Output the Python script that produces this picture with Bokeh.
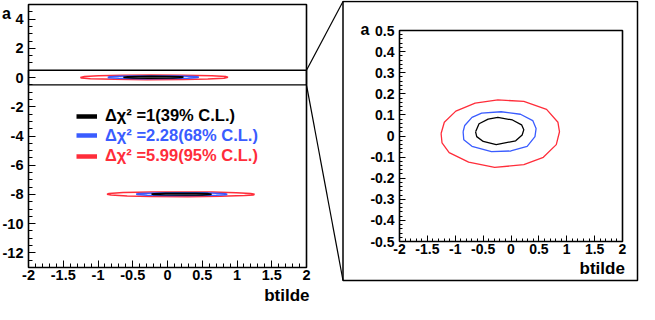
import numpy as np
from bokeh.plotting import figure
from bokeh.models import (Range1d, FixedTicker, BoxAnnotation, Label, LinearAxis,
                          Legend, LegendItem, CustomJSTickFormatter)
from bokeh.embed import file_html
from bokeh.resources import INLINE

FONT = "Liberation Sans"
RED = "#ff2d3a"
BLUE = "#3a5cff"
BLACK = "#000000"

# ---- contour data ----
# solution 1 (a ~ 0)
black_b = [-0.635, -0.573, -0.41, -0.236, 0.026, 0.19, 0.23, 0.20, 0.084, -0.265, -0.498, -0.615]
black_a = [0.020, 0.058, 0.080, 0.088, 0.076, 0.053, 0.030, 0.005, -0.023, -0.041, -0.026, -0.003]
blue_b = [-0.859, -0.83, -0.70, -0.527, -0.178, 0.17, 0.39, 0.45, 0.43, 0.29, -0.003, -0.35, -0.70, -0.847]
blue_a = [0.020, 0.05, 0.088, 0.108, 0.115, 0.103, 0.073, 0.035, -0.003, -0.049, -0.071, -0.074, -0.049, -0.018]
red_b = [-1.254, -1.196, -0.99, -0.643, -0.236, 0.23, 0.638, 0.842, 0.87, 0.812, 0.58, 0.23, -0.293, -0.76, -1.109, -1.237]
red_a = [0.012, 0.065, 0.118, 0.156, 0.171, 0.164, 0.126, 0.065, 0.020, -0.041, -0.101, -0.136, -0.149, -0.124, -0.079, -0.033]
# solution 2 (a ~ -8)
black2_b = [0.635, 0.573, 0.41, 0.236, -0.026, -0.19, -0.23, -0.20, -0.084, 0.265, 0.498, 0.615]
black2_a = [-7.98, -7.94, -7.92, -7.91, -7.92, -7.95, -7.97, -8.00, -8.02, -8.04, -8.03, -8.00]
blue2_b = [0.859, 0.83, 0.70, 0.527, 0.178, -0.17, -0.39, -0.45, -0.43, -0.29, 0.003, 0.35, 0.70, 0.847]
blue2_a = [-7.98, -7.95, -7.91, -7.89, -7.89, -7.90, -7.93, -7.97, -8.00, -8.05, -8.07, -8.07, -8.05, -8.02]
red2_b = [1.254, 1.196, 0.99, 0.643, 0.236, -0.23, -0.638, -0.842, -0.87, -0.812, -0.58, -0.23, 0.293, 0.76, 1.109, 1.237]
red2_a = [-7.99, -7.94, -7.88, -7.84, -7.83, -7.84, -7.87, -7.94, -7.98, -8.04, -8.10, -8.14, -8.15, -8.12, -8.08, -8.03]

legend_labels = ["Δχ² =1(39% C.L.)", "Δχ² =2.28(68% C.L.)", "Δχ² =5.99(95% C.L.)"]
legend_colors = [BLACK, BLUE, RED]

# axis limits
b_lim = [-2, 2]
a_lim_full = [-13, 5]
zoom_a = [-0.5, 0.5]      # zoom window shown on the right

# ---- ticks ----
x_ticks = [-2, -1.5, -1, -0.5, 0, 0.5, 1, 1.5, 2]
x_tick_labels = ["-2", "-1.5", "-1", "-0.5", "0", "0.5", "1", "1.5", "2"]
y1_ticks = [-12, -10, -8, -6, -4, -2, 0, 2, 4]
y1_tick_labels = ["-12", "-10", "-8", "-6", "-4", "-2", "0", "2", "4"]
y2_ticks = [-0.5, -0.4, -0.3, -0.2, -0.1, 0, 0.1, 0.2, 0.3, 0.4, 0.5]
y2_tick_labels = ["-0.5", "-0.4", "-0.3", "-0.2", "-0.1", "0", "0.1", "0.2", "0.3", "0.4", "0.5"]
x_minor = [float(v) for v in np.round(np.arange(-2, 2.0001, 0.1), 3)]
y1_minor = [float(v) for v in np.round(np.arange(-13, 5.0001, 0.5), 3)]
y2_minor = [float(v) for v in np.round(np.arange(-0.5, 0.5001, 0.02), 3)]

# ---- page layout (canvas pixels) ----
W, H = 639, 304
LF = dict(l=28, r=306, t=4, b=267)        # left panel frame
RF = dict(l=399, r=622, t=30, b=241)      # right panel frame
RB = dict(l=342.5, r=637, t=1, b=280)     # right panel outer box


def lin(p0, p1, v0, v1):
    return lambda px: v0 + (px - p0) * (v1 - v0) / (p1 - p0)


lx = lin(LF["l"], LF["r"], b_lim[0], b_lim[1])
ly = lin(LF["t"], LF["b"], a_lim_full[1], a_lim_full[0])
rx = lin(RF["l"], RF["r"], b_lim[0], b_lim[1])
ry = lin(RF["t"], RF["b"], zoom_a[1], zoom_a[0])

p = figure(width=W, height=H, x_range=Range1d(lx(0), lx(W)), y_range=Range1d(ly(H), ly(0)),
           x_axis_location=None, y_axis_location=None, output_backend="svg",
           toolbar_location=None, min_border=0, min_border_left=0, min_border_right=0,
           min_border_top=0, min_border_bottom=0)
p.extra_x_ranges = {"rx": Range1d(rx(0), rx(W))}
p.extra_y_ranges = {"ry": Range1d(ry(H), ry(0))}
p.xgrid.visible = False
p.ygrid.visible = False
p.outline_line_color = None
p.background_fill_color = "white"
p.border_fill_color = "white"

R = dict(x_range_name="rx", y_range_name="ry")


def add_axis(loc, fixed, bounds, ticks, minor, labels, fs, standoff, tin, tmin, names=None):
    ax = LinearAxis(fixed_location=fixed, bounds=tuple(bounds), **(names or {}))
    ax.ticker = FixedTicker(ticks=ticks, minor_ticks=minor)
    ax.formatter = CustomJSTickFormatter(code="return tick.toString()")
    ax.major_label_overrides = {float(t): s for t, s in zip(ticks, labels)}
    ax.axis_line_color = None
    ax.major_tick_in = tin
    ax.major_tick_out = 0
    ax.minor_tick_in = tmin
    ax.minor_tick_out = 0
    ax.major_tick_line_color = "black"
    ax.minor_tick_line_color = "black"
    ax.major_tick_line_width = 1
    ax.minor_tick_line_width = 1
    ax.major_label_text_font = FONT
    ax.major_label_text_font_style = "bold"
    ax.major_label_text_font_size = fs
    ax.major_label_text_color = "black"
    ax.major_label_standoff = standoff
    p.add_layout(ax, loc)


def frame_box(left, right, bottom, top, lw, names=None):
    p.add_layout(BoxAnnotation(left=left, right=right, bottom=bottom, top=top,
                               fill_color=None, fill_alpha=0, line_color="black",
                               line_width=lw, line_alpha=1, **(names or {})))


def text_label(x, y, txt, size, align, names=None):
    p.add_layout(Label(x=x, y=y, text=txt, text_align=align, text_baseline="middle",
                       text_font=FONT, text_font_style="bold", text_font_size=size,
                       text_color="black", **(names or {})))


# ================= left panel =================
add_axis("below", a_lim_full[0], b_lim, x_ticks, x_minor, x_tick_labels, "14.5px", 2, 7, 4)
add_axis("left", b_lim[0], a_lim_full, y1_ticks, y1_minor, y1_tick_labels, "14.5px", 5, 7, 4)

for bx, ay, col in [(red_b, red_a, RED), (blue_b, blue_a, BLUE), (black_b, black_a, BLACK),
                    (red2_b, red2_a, RED), (blue2_b, blue2_a, BLUE), (black2_b, black2_a, BLACK)]:
    p.line(list(bx) + [bx[0]], list(ay) + [ay[0]], line_color=col, line_width=1.5)

frame_box(b_lim[0], b_lim[1], a_lim_full[0], a_lim_full[1], 1.6)
frame_box(b_lim[0], b_lim[1], zoom_a[0], zoom_a[1], 1.4)

# connectors from the zoom window to the right panel's box
p.segment(x0=[b_lim[1], b_lim[1]], y0=[zoom_a[1], zoom_a[0]],
          x1=[lx(RB["l"]), lx(RB["l"])], y1=[ly(RB["t"]), ly(RB["b"])],
          line_color="black", line_width=1.2)

# legend: one block per entry so each label keeps its own colour
legend_centers = [116.2, 135.6, 156.2]
for lab, col, cy in zip(legend_labels, legend_colors, legend_centers):
    proxy = p.line(x=[float("nan"), float("nan")], y=[float("nan"), float("nan")],
                   line_color=col, line_width=4.5)
    lg = Legend(items=[LegendItem(label=lab, renderers=[proxy])], location=(76, H - cy - 9),
                padding=0, margin=0, spacing=0, glyph_width=21, glyph_height=18,
                label_height=18, label_standoff=8, border_line_color=None,
                background_fill_alpha=0, label_text_font=FONT, label_text_font_style="bold",
                label_text_font_size="16.5px", label_text_color=col)
    p.add_layout(lg, "center")

text_label(lx(5.9), ly(12.5), "a", "16px", "center")
text_label(lx(309), ly(295), "btilde", "17px", "right")

# ================= right panel =================
add_axis("below", zoom_a[0], b_lim, x_ticks, x_minor, x_tick_labels, "14px", 2, 6, 3, R)
add_axis("left", b_lim[0], zoom_a, y2_ticks, y2_minor, y2_tick_labels, "14px", 5, 6, 3, R)

for bx, ay, col in [(red_b, red_a, RED), (blue_b, blue_a, BLUE), (black_b, black_a, BLACK)]:
    p.line(list(bx) + [bx[0]], list(ay) + [ay[0]], line_color=col, line_width=1.3, **R)

frame_box(b_lim[0], b_lim[1], zoom_a[0], zoom_a[1], 1.6, R)
frame_box(rx(RB["l"]), rx(RB["r"]), ry(RB["b"]), ry(RB["t"]), 1.5, R)

text_label(rx(364.5), ry(29.0), "a", "16px", "center", R)
text_label(rx(624.4), ry(267.5), "btilde", "17px", "right", R)

open("out.html", "w").write(file_html(p, INLINE))
